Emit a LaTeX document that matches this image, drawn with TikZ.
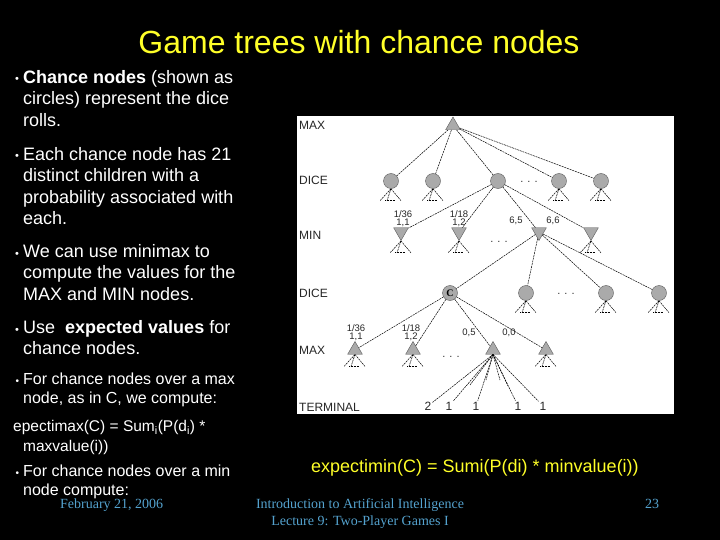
\documentclass[tikz,border=0pt]{standalone}
\usepackage{fontspec}
\setmainfont{Liberation Sans}
\newfontfamily\footfont{Liberation Serif}
\usepackage{tikz}
\usetikzlibrary{shapes.geometric}
\definecolor{slideyellow}{RGB}{255,255,40}
\definecolor{footblue}{RGB}{84,162,206}
\definecolor{nodegray}{RGB}{170,170,170}
\definecolor{edgegray}{RGB}{90,90,90}

\begin{document}
\begin{tikzpicture}[x=1pt,y=-1pt,
    maxnode/.style={regular polygon,regular polygon sides=3,draw=edgegray,fill=nodegray,minimum size=17pt,inner sep=0pt},
    minnode/.style={maxnode,shape border rotate=180},
    chance/.style={circle,draw=edgegray,fill=nodegray,minimum size=15pt,inner sep=0pt},
    treeline/.style={black,line width=0.5pt,dash pattern=on 2pt off 0.8pt},
    level/.style={anchor=west,inner sep=0pt,text=black!85,font=\fontsize{12}{12}\selectfont},
    prob/.style={inner sep=0pt,align=center,text=black!85,font=\fontsize{9.5}{8}\selectfont},
    dotsnode/.style={inner sep=0pt,text=black!80,font=\fontsize{11}{11}\selectfont},
    leaf/.style={inner sep=1pt,text=black!85,font=\fontsize{12}{12}\selectfont},
    bul/.style={anchor=base west,inner sep=0pt,text=white,font=\fontsize{11}{11}\selectfont},
    body/.style={anchor=north west,inner sep=0pt,align=left,text=white,font=\fontsize{18}{21.5}\selectfont},
    small body/.style={body,font=\fontsize{16}{19.5}\selectfont},
    foot/.style={inner sep=0pt,text=footblue,font=\footfont\fontsize{14}{17}\selectfont},
    fan/.pic={\draw[treeline] (0,0) -- (-11,12) (0,0) -- (-4,12) (0,0) -- (10,12);
              \draw[treeline,densely dotted] (-6,11.5) -- (4,11.5);}]
  \useasboundingbox (0,0) rectangle (720,540);
  \fill[black] (0,0) rectangle (720,540);

  \node[anchor=base,inner sep=0pt,text=slideyellow,font=\fontsize{32}{36}\selectfont] (title) at (359,54) {Game trees with chance nodes};

  \node[bul] (bul_1) at (15,83) {•};
  \node[body] (txt_1) at (23,67.95) {\strut\textbf{Chance nodes} (shown as\\circles) represent the dice\\rolls.};
  \node[bul] (bul_2) at (15,160) {•};
  \node[body] (txt_2) at (23,144.95) {\strut Each chance node has 21\\distinct children with a\\probability associated with\\each.};
  \node[bul] (bul_3) at (15,257) {•};
  \node[body] (txt_3) at (23,241.95) {\strut We can use minimax to\\compute the values for the\\MAX and MIN nodes.};
  \node[bul] (bul_4) at (15,333) {•};
  \node[body] (txt_4) at (23,317.95) {\strut Use\ \ \textbf{expected values} for\\chance nodes.};
  \node[bul,font=\fontsize{10}{10}\selectfont] (bul_5) at (15.5,384) {•};
  \node[small body] (txt_5) at (23,370.35) {\strut For chance nodes over a max\\node, as in C, we compute:};
  \node[body,font=\fontsize{15.5}{20}\selectfont] (txt_6) at (13,417) {\strut epectimax(C) = Sum\textsubscript{i}(P(d\textsubscript{i}) *\\\hspace*{10pt}maxvalue(i))};
  \node[bul,font=\fontsize{10}{10}\selectfont] (bul_6) at (15.5,476) {•};
  \node[small body] (txt_7) at (23,462.35) {\strut For chance nodes over a min\\node compute:};

  \node[anchor=base,inner sep=0pt,text=slideyellow,font=\fontsize{18}{20}\selectfont] (expmin) at (475,472) {expectimin(C) = Sumi(P(di) * minvalue(i))};

  \node[foot,anchor=base west] (date) at (60,508) {February 21, 2006};
  \node[foot,anchor=north,align=center] (course) at (360,496.1) {\strut Introduction to Artificial Intelligence\\Lecture 9: Two-Player Games I};
  \node[foot,anchor=base] (page) at (652,508) {23};

  \fill[white] (297,116) rectangle (674,414);

  \node[level] (lev_1) at (299,125) {MAX};
  \node[level] (lev_2) at (299,180) {DICE};
  \node[level] (lev_3) at (299,235) {MIN};
  \node[level] (lev_4) at (299,293) {DICE};
  \node[level] (lev_5) at (299,350) {MAX};
  \node[level] (lev_6) at (299,407) {TERMINAL};

  \node[maxnode] (max_0) at (453,125.5) {};

  \node[chance] (d_1) at (391,181) {};
  \node[chance] (d_2) at (433,181) {};
  \node[chance] (d_3) at (498,181) {};
  \node[dotsnode] (dots_1) at (529,182) {. . .};
  \node[chance] (d_4) at (559,181) {};
  \node[chance] (d_5) at (601,181) {};

  \node[minnode] (m_1) at (401,232) {};
  \node[minnode] (m_2) at (459,232) {};
  \node[dotsnode] (dots_2) at (499,242) {. . .};
  \node[minnode] (m_3) at (539,232) {};
  \node[minnode] (m_4) at (591,232) {};

  \node[chance] (c) at (450,293) {\footfont\bfseries\fontsize{10}{10}\selectfont C};
  \node[chance] (e_2) at (526,293) {};
  \node[dotsnode] (dots_3) at (566,294) {. . .};
  \node[chance] (e_3) at (606,293) {};
  \node[chance] (e_4) at (659,293) {};

  \node[maxnode] (x_1) at (355,350) {};
  \node[maxnode] (x_2) at (413,350) {};
  \node[dotsnode] (dots_4) at (451,357) {. . .};
  \node[maxnode] (x_3) at (493,350) {};
  \node[maxnode] (x_4) at (546,350) {};

  \node[leaf] (t_1) at (428,406) {2};
  \node[leaf] (t_2) at (449,406) {1};
  \node[leaf] (t_3) at (476,406) {1};
  \node[leaf] (t_4) at (518,406) {1};
  \node[leaf] (t_5) at (543,406) {1};

  \node[prob] (p_1) at (403,218.5) {1/36\\1,1};
  \node[prob] (p_2) at (459,218.5) {1/18\\1,2};
  \node[prob] (p_3) at (516,221) {6,5};
  \node[prob] (p_4) at (553,221) {6,6};
  \node[prob] (p_5) at (356,332.5) {1/36\\1,1};
  \node[prob] (p_6) at (411,333) {1/18\\1,2};
  \node[prob] (p_7) at (469,333) {0,5};
  \node[prob] (p_8) at (509,333) {0,0};

  \coordinate (f_1) at (470,385);
  \coordinate (f_2) at (486,380);
  \coordinate (f_3) at (500,380);
  \coordinate (f_4) at (508,386);

  \foreach \n in {d_1,d_2,d_3,d_4,d_5}
    \draw[treeline] (max_0) -- (\n);
  \foreach \n in {m_1,m_2,m_3,m_4}
    \draw[treeline] (d_3) -- (\n);
  \foreach \n in {c,e_2,e_3,e_4}
    \draw[treeline] (m_3) -- (\n);
  \foreach \n in {x_1,x_2,x_3,x_4}
    \draw[treeline] (c) -- (\n);
  \foreach \n in {t_1,t_2,t_3,t_4,t_5,f_1,f_2,f_3,f_4}
    \draw[treeline] (x_3.south) -- (\n);

  \foreach \n in {d_1,d_2,d_4,d_5,m_1,m_2,m_4,e_2,e_3,e_4,x_1,x_2,x_4}
    \pic at (\n.south) {fan};
\end{tikzpicture}
\end{document}
